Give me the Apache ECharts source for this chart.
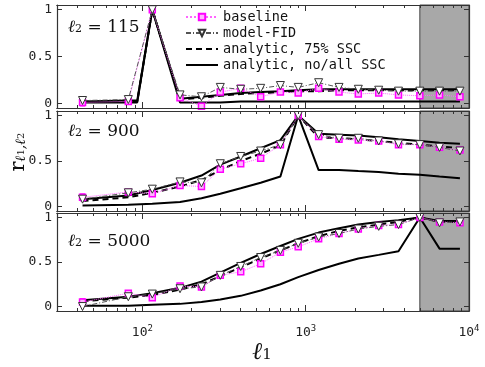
<!DOCTYPE html>
<html>
<head>
<meta charset="utf-8">
<script src="https://cdn.jsdelivr.net/npm/echarts@6/dist/echarts.min.js"></script>
<style>
  html, body { margin: 0; padding: 0; background: #fff; }
  #chart { width: 485px; height: 367px; }
</style>
</head>
<body>
<div id="chart"></div>
<script>
  // l1 bins of the measured points
  const ell1 = [43, 82, 115, 170, 230, 300, 400, 530, 700, 900, 1200, 1600, 2100, 2800, 3700, 5000, 6600, 8800];
  // analytic curve of the l2 = 115 panel has one more point before the peak
  const ellAna115 = [43, 82, 93, 115, 170, 230, 300, 400, 530, 700, 900, 1200, 1600, 2100, 2800, 3700, 5000, 6600, 8800];

  // l2 = 115
  const base115 = [0.01, 0.02, 1.0, 0.06, -0.03, 0.12, 0.16, 0.07, 0.12, 0.11, 0.16, 0.12, 0.10, 0.11, 0.09, 0.08, 0.09, 0.07];
  const fid115 = [0.03, 0.04, 1.0, 0.09, 0.07, 0.17, 0.15, 0.16, 0.19, 0.17, 0.22, 0.17, 0.15, 0.14, 0.13, 0.13, 0.13, 0.13];
  const ssc75_115 = [0.02, 0.02, 0.02, 1.0, 0.04, 0.06, 0.08, 0.10, 0.11, 0.12, 0.13, 0.13, 0.14, 0.14, 0.14, 0.14, 0.14, 0.14, 0.14];
  const noSsc115 = [0.02, 0.03, 0.03, 1.0, 0.05, 0.07, 0.09, 0.11, 0.12, 0.13, 0.14, 0.15, 0.15, 0.15, 0.15, 0.15, 0.15, 0.15, 0.15];
  const allSsc115 = [0.01, 0.01, 0.01, 1.0, 0.01, 0.01, 0.01, 0.02, 0.02, 0.02, 0.02, 0.02, 0.02, 0.02, 0.02, 0.02, 0.02, 0.02, 0.02];

  // l2 = 900
  const base900 = [0.10, 0.16, 0.14, 0.23, 0.22, 0.41, 0.47, 0.53, 0.68, 1.0, 0.77, 0.74, 0.73, 0.72, 0.68, 0.68, 0.65, 0.62];
  const fid900 = [0.08, 0.15, 0.19, 0.27, 0.26, 0.47, 0.55, 0.61, 0.68, 1.0, 0.79, 0.75, 0.75, 0.72, 0.69, 0.68, 0.65, 0.61];
  const ssc75_900 = [0.06, 0.10, 0.15, 0.22, 0.29, 0.40, 0.50, 0.58, 0.67, 1.0, 0.76, 0.75, 0.74, 0.72, 0.70, 0.68, 0.66, 0.64];
  const noSsc900 = [0.08, 0.12, 0.18, 0.26, 0.34, 0.46, 0.55, 0.64, 0.73, 1.0, 0.80, 0.79, 0.78, 0.76, 0.74, 0.72, 0.70, 0.69];
  const allSsc900 = [0.01, 0.02, 0.03, 0.05, 0.09, 0.14, 0.20, 0.26, 0.33, 1.0, 0.40, 0.40, 0.39, 0.38, 0.36, 0.35, 0.33, 0.31];

  // l2 = 5000
  const base5000 = [0.05, 0.15, 0.10, 0.23, 0.22, 0.35, 0.39, 0.48, 0.61, 0.67, 0.76, 0.82, 0.87, 0.91, 0.92, 1.0, 0.95, 0.94];
  const fid5000 = [0.00, 0.11, 0.14, 0.20, 0.22, 0.35, 0.45, 0.55, 0.63, 0.71, 0.78, 0.82, 0.87, 0.90, 0.92, 1.0, 0.94, 0.95];
  const ssc75_5000 = [0.06, 0.10, 0.13, 0.19, 0.25, 0.34, 0.44, 0.54, 0.63, 0.71, 0.79, 0.85, 0.89, 0.92, 0.95, 1.0, 0.95, 0.95];
  const noSsc5000 = [0.07, 0.11, 0.15, 0.21, 0.28, 0.38, 0.49, 0.59, 0.68, 0.76, 0.83, 0.88, 0.92, 0.95, 0.97, 1.0, 0.96, 0.96];
  const allSsc5000 = [0.01, 0.01, 0.02, 0.03, 0.05, 0.08, 0.12, 0.18, 0.25, 0.33, 0.41, 0.48, 0.54, 0.58, 0.62, 1.0, 0.65, 0.65];

  // half-width of the baseline error bars
  const baseErr = [0.04, 0.03, 0.0, 0.03, 0.03, 0.02, 0.02, 0.02, 0.02, 0.0, 0.02, 0.02, 0.02, 0.02, 0.02, 0.0, 0.02, 0.02];

  const panelTitles = ['115', '900', '5000'];
  const xMajor = [100, 1000, 10000];
  const xMinor = [40, 50, 60, 70, 80, 90, 200, 300, 400, 500, 600, 700, 800, 900, 2000, 3000, 4000, 5000, 6000, 7000, 8000, 9000];
  const yTicks = [0, 0.5, 1];
  const shadeFrom = 5000, shadeTo = 10000;

  const panels = [
    { base: base115, fid: fid115, ssc75: ssc75_115, noSsc: noSsc115, allSsc: allSsc115, anaX: ellAna115 },
    { base: base900, fid: fid900, ssc75: ssc75_900, noSsc: noSsc900, allSsc: allSsc900, anaX: ell1 },
    { base: base5000, fid: fid5000, ssc75: ssc75_5000, noSsc: noSsc5000, allSsc: allSsc5000, anaX: ell1 }
  ];

  const mono = 'DejaVu Sans Mono';
  const serif = 'DejaVu Serif';
  const frame = '#333';

  const grids = [
    { left: 57, right: 16, top: 5, height: 103 },
    { left: 57, right: 16, top: 111, height: 100 },
    { left: 57, right: 16, top: 213, height: 98 }
  ];

  let xAxes = [], yAxes = [], series = [];

  function logAxis(g, pos, ticks, len, withLabels) {
    return {
      type: 'log', logBase: 10, gridIndex: g, position: pos, z: 10,
      min: 30, max: 10000,
      axisLine: { show: true, onZero: false, lineStyle: { color: frame, width: 1.2 } },
      splitLine: { show: false },
      axisTick: { show: true, inside: true, length: len, customValues: ticks, lineStyle: { color: frame, width: 1 } },
      axisLabel: withLabels ? {
        show: true, customValues: xMajor, margin: 13,
        formatter: v => '{b|10}{s|' + Math.round(Math.log10(v)) + '}',
        rich: {
          b: { fontFamily: mono, fontSize: 13, color: '#222' },
          s: { fontFamily: mono, fontSize: 9, color: '#222', padding: [0, 0, 9, 0] }
        }
      } : { show: false }
    };
  }

  function toPairs(xs, ys) {
    return xs.map((x, i) => [x, ys[i]]);
  }

  function renderErr(params, api) {
    const x = api.value(0);
    const lo = api.coord([x, api.value(1)]);
    const hi = api.coord([x, api.value(2)]);
    const w = 2.5;
    const st = { stroke: '#ff33ff', lineWidth: 1 };
    return {
      type: 'group',
      children: [
        { type: 'line', shape: { x1: lo[0], y1: lo[1], x2: hi[0], y2: hi[1] }, style: st },
        { type: 'line', shape: { x1: lo[0] - w, y1: lo[1], x2: lo[0] + w, y2: lo[1] }, style: st },
        { type: 'line', shape: { x1: hi[0] - w, y1: hi[1], x2: hi[0] + w, y2: hi[1] }, style: st }
      ]
    };
  }

  panels.forEach((p, g) => {
    const xi = xAxes.length;
    xAxes.push(logAxis(g, 'bottom', xMajor, 6, g === 2));
    xAxes.push(logAxis(g, 'bottom', xMinor, 3, false));
    xAxes.push(logAxis(g, 'top', xMajor, 6, false));
    xAxes.push(logAxis(g, 'top', xMinor, 3, false));

    const yi = yAxes.length;
    ['left', 'right'].forEach(pos => {
      yAxes.push({
        type: 'value', gridIndex: g, position: pos, z: 10,
        min: -0.05, max: 1.05,
        axisLine: { show: true, onZero: false, lineStyle: { color: frame, width: 1.2 } },
        splitLine: { show: false },
        axisTick: { show: true, inside: true, length: 5, customValues: yTicks, lineStyle: { color: frame, width: 1 } },
        axisLabel: pos === 'left' ? {
          show: true, customValues: yTicks, margin: 5,
          fontFamily: mono, fontSize: 13, color: '#222',
          formatter: v => (v === 0.5 ? '0.5' : String(Math.round(v)))
        } : { show: false }
      });
    });

    // grey shaded band
    series.push({
      type: 'line', xAxisIndex: xi, yAxisIndex: yi, data: [], silent: true, z: 1,
      markArea: {
        silent: true,
        itemStyle: { color: '#a8a8a8', borderColor: '#444', borderWidth: 1 },
        data: [[{ xAxis: shadeFrom }, { xAxis: shadeTo }]]
      }
    });

    series.push({
      name: 'analytic, no/all SSC', type: 'line', xAxisIndex: xi, yAxisIndex: yi,
      data: toPairs(p.anaX, p.noSsc), symbol: 'none',
      lineStyle: { color: '#000', width: 2 }, itemStyle: { color: '#000', opacity: 0 }, z: 3
    });
    series.push({
      name: 'analytic, no/all SSC', type: 'line', xAxisIndex: xi, yAxisIndex: yi,
      data: toPairs(p.anaX, p.allSsc), symbol: 'none',
      lineStyle: { color: '#000', width: 2 }, itemStyle: { color: '#000', opacity: 0 }, z: 3
    });
    series.push({
      name: 'analytic, 75% SSC', type: 'line', xAxisIndex: xi, yAxisIndex: yi,
      data: toPairs(p.anaX, p.ssc75), symbol: 'none',
      lineStyle: { color: '#000', width: 2, type: [6, 4] }, itemStyle: { color: '#000', opacity: 0 }, z: 3
    });
    series.push({
      type: 'custom', xAxisIndex: xi, yAxisIndex: yi, renderItem: renderErr, z: 4,
      data: ell1.map((x, i) => [x, p.base[i] - baseErr[i], p.base[i] + baseErr[i]])
    });
    series.push({
      name: 'baseline', type: 'line', xAxisIndex: xi, yAxisIndex: yi,
      data: toPairs(ell1, p.base), symbol: 'rect', symbolSize: 6,
      lineStyle: { color: '#ff66ff', width: 1, type: 'dotted' },
      itemStyle: { color: '#ffb3ff', borderColor: '#ff00ff', borderWidth: 1.5 }, z: 5
    });
    series.push({
      name: 'model-FID', type: 'line', xAxisIndex: xi, yAxisIndex: yi,
      data: toPairs(ell1, p.fid), symbol: 'triangle', symbolRotate: 180, symbolSize: 8,
      lineStyle: { color: '#555', width: 1, type: [5, 2, 1, 2] },
      itemStyle: { color: '#fff', borderColor: '#333', borderWidth: 1 }, z: 6
    });
  });

  const panelTop = [19, 123, 233];
  const graphics = panelTop.map((t, i) => ({
    type: 'text', left: 68, top: t, z: 20,
    style: {
      text: '{l|ℓ}{s|2}{n| = ' + panelTitles[i] + '}',
      rich: {
        l: { fontFamily: serif, fontStyle: 'italic', fontSize: 17, fill: '#111', padding: [0, 0, 3, 0] },
        s: { fontFamily: serif, fontSize: 11, fill: '#111' },
        n: { fontFamily: serif, fontSize: 17, fill: '#111', padding: [0, 0, 3, 0] }
      }
    }
  }));
  graphics.push({
    type: 'text', x: 21, y: 152, rotation: Math.PI / 2, z: 20,
    style: {
      text: '{r|r}{l|ℓ}{s|1}{l|,ℓ}{s|2}',
      align: 'center', verticalAlign: 'middle',
      rich: {
        r: { fontFamily: serif, fontSize: 21, fill: '#111', padding: [0, 0, 4, 0] },
        l: { fontFamily: serif, fontStyle: 'italic', fontSize: 14, fill: '#111' },
        s: { fontFamily: serif, fontSize: 10, fill: '#111' }
      }
    }
  });
  graphics.push({
    type: 'text', x: 262, y: 355, z: 20,
    style: {
      text: '{l|ℓ}{s|1}',
      align: 'center', verticalAlign: 'middle',
      rich: {
        l: { fontFamily: serif, fontStyle: 'italic', fontSize: 24, fill: '#111', padding: [0, 0, 4, 0] },
        s: { fontFamily: serif, fontSize: 15, fill: '#111' }
      }
    }
  });

  const chart = echarts.init(document.getElementById('chart'), null, { renderer: 'canvas' });
  chart.setOption({
    animation: false,
    backgroundColor: '#fff',
    grid: grids,
    xAxis: xAxes,
    yAxis: yAxes,
    legend: {
      data: ['baseline', 'model-FID', 'analytic, 75% SSC', 'analytic, no/all SSC'],
      orient: 'vertical', left: 180, top: 5,
      itemWidth: 32, itemHeight: 8, itemGap: 2,
      textStyle: { fontFamily: mono, fontSize: 13.5, color: '#111', lineHeight: 14 }
    },
    graphic: graphics,
    series: series
  });
</script>
</body>
</html>
